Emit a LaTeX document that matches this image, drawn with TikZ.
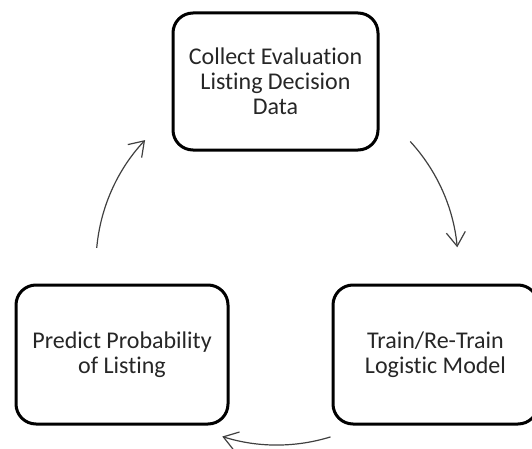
\documentclass[tikz,border=0pt]{standalone}
\usepackage{fontspec}
\setmainfont[Ligatures=NoCommon]{Carlito}
\usetikzlibrary{arrows.meta,calc}
\definecolor{txt}{HTML}{262626}
\definecolor{arr}{HTML}{404040}
\tikzset{
  stagebox/.style={draw=black, line width=3pt, rounded corners=20pt, align=center,
    text=txt, font=\fontsize{24}{25}\selectfont, inner sep=0pt},
  cyclearrow/.style={draw=arr, line width=1.2pt,
    -{Straight Barb[length=14pt,width=19pt,line width=1.2pt]}}
}
\begin{document}
\begin{tikzpicture}[x=1pt,y=1pt]
  \useasboundingbox (0,0) rectangle (532,448);
  \node[stagebox, minimum width=205pt, minimum height=137pt] (collect) at (275.5,366.5)
    {Collect Evaluation\\Listing Decision\\Data};
  \node[stagebox, minimum width=212pt, minimum height=139pt] (predict) at (122,93.5)
    {Predict Probability\\of Listing};
  \node[stagebox, minimum width=205pt, minimum height=139pt] (train) at (435.5,93.5)
    {Train/Re-Train\\Logistic Model};
  \coordinate (c) at (277,184);
  \coordinate (s1) at ($(c)+(42.6:181)$);
  \coordinate (s2) at ($(c)+(-72.8:181)$);
  \coordinate (s3) at ($(c)+(174.9:181)$);
  \draw[cyclearrow] (s1) arc[start angle=42.6, end angle=5.3, radius=181];
  \draw[cyclearrow] (s2) arc[start angle=-72.8, end angle=-107.6, radius=181];
  \draw[cyclearrow] (s3) arc[start angle=174.9, end angle=136.8, radius=181];
\end{tikzpicture}
\end{document}
